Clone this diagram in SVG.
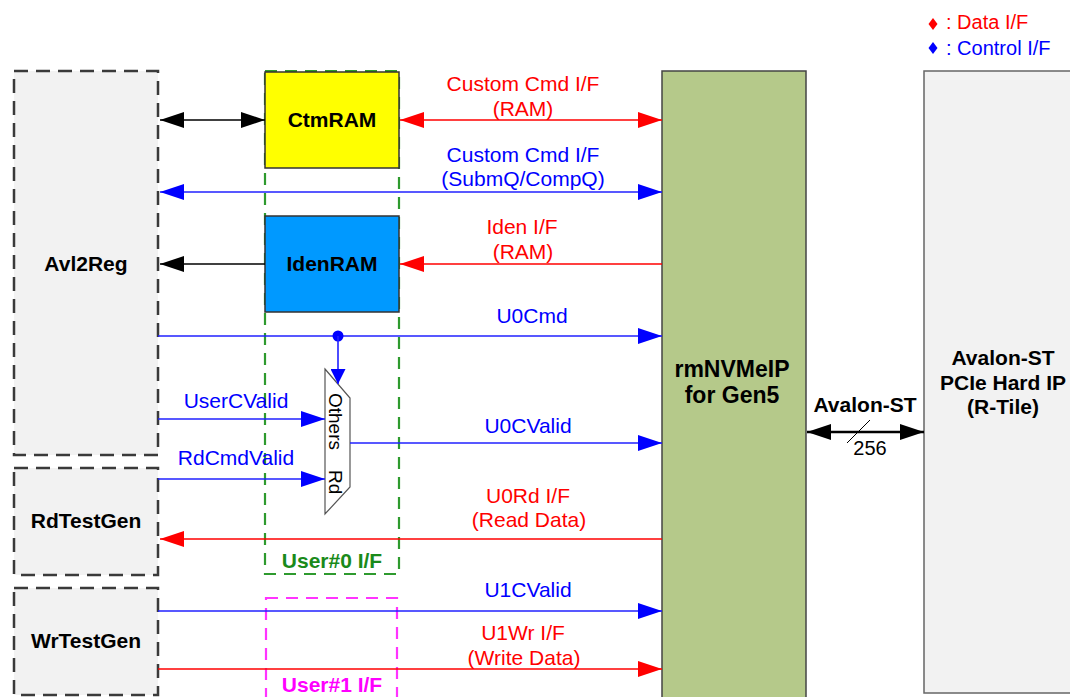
<svg xmlns="http://www.w3.org/2000/svg" width="1070" height="697" viewBox="0 0 1070 697">
<defs>
<style>
text{font-family:"Liberation Sans",Arial,sans-serif}
.lbl{font-size:21px;text-anchor:middle}
.r{fill:#ff0000}
.b{fill:#0000ff}
.bold{font-weight:bold;fill:#000;text-anchor:middle;font-size:21px}
.dash{fill:#f2f2f2;stroke:#3a3a3a;stroke-width:2.5;stroke-dasharray:14 8}
.ln-b{stroke:#2020ff;stroke-width:1.6;fill:none}
.ln-r{stroke:#ff0000;stroke-width:1.6;fill:none}
.ln-k{stroke:#000;stroke-width:1.6;fill:none}
</style>
<marker id="ab" viewBox="0 0 24 16" refX="24" refY="8" markerWidth="24" markerHeight="16" markerUnits="userSpaceOnUse" orient="auto-start-reverse"><path d="M0,0 L24,8 L0,16 z" fill="#0000ff"/></marker>
<marker id="abs" viewBox="0 0 16 16" refX="16" refY="8" markerWidth="16" markerHeight="15" markerUnits="userSpaceOnUse" orient="auto-start-reverse"><path d="M0,0 L16,8 L0,16 z" fill="#0000ff"/></marker>
<marker id="ar" viewBox="0 0 24 16" refX="24" refY="8" markerWidth="24" markerHeight="16" markerUnits="userSpaceOnUse" orient="auto-start-reverse"><path d="M0,0 L24,8 L0,16 z" fill="#ff0000"/></marker>
<marker id="ak" viewBox="0 0 24 16" refX="24" refY="8" markerWidth="24" markerHeight="16" markerUnits="userSpaceOnUse" orient="auto-start-reverse"><path d="M0,0 L24,8 L0,16 z" fill="#000"/></marker>
</defs>
<rect width="1070" height="697" fill="#fff"/>

<g id="legend">
<polygon points="933,18 937.5,24 933,30 928.5,24" fill="#ff0000"/>
<text x="946" y="29" font-size="20" class="r">: Data I/F</text>
<polygon points="933,42 937.5,48 933,54 928.5,48" fill="#0000ff"/>
<text x="946" y="55" font-size="20" class="b">: Control I/F</text>
</g>

<g id="avl2reg">
<rect class="dash" x="14" y="71" width="144" height="384"/>
<text class="bold" x="86" y="271">Avl2Reg</text>
</g>
<g id="rdtestgen">
<rect class="dash" x="14" y="468" width="144" height="107"/>
<text class="bold" x="86" y="528">RdTestGen</text>
</g>
<g id="wrtestgen">
<rect class="dash" x="14" y="588" width="144" height="107"/>
<text class="bold" x="86" y="648">WrTestGen</text>
</g>

<g id="user0">
<rect x="265" y="71" width="134" height="503" fill="none" stroke="#2e9a2e" stroke-width="2.2" stroke-dasharray="12 8"/>
<text x="332" y="568" font-size="21" font-weight="bold" fill="#1a8a1a" text-anchor="middle">User#0 I/F</text>
</g>
<g id="user1">
<rect x="266" y="598" width="131" height="110" fill="none" stroke="#ff33ff" stroke-width="2.2" stroke-dasharray="12 8"/>
<text x="332" y="692" font-size="21" font-weight="bold" fill="#ff00ff" text-anchor="middle">User#1 I/F</text>
</g>

<g id="ctmram">
<rect x="265" y="72" width="134" height="96" fill="#ffff00" stroke="#333" stroke-width="1.5"/>
<text class="bold" x="332" y="127">CtmRAM</text>
</g>
<g id="idenram">
<rect x="265" y="216" width="134" height="96" fill="#0099ff" stroke="#333" stroke-width="1.5"/>
<text class="bold" x="332" y="271">IdenRAM</text>
</g>

<g id="mux">
<polygon points="325,369 350,398 350,487 325,514" fill="#fff" stroke="#555" stroke-width="1.2"/>
<text x="0" y="0" font-size="19" fill="#000" transform="translate(329,393) rotate(90)">Others</text>
<text x="0" y="0" font-size="19" fill="#000" transform="translate(329,470) rotate(90)">Rd</text>
</g>

<g id="rmnvmeip">
<rect x="662" y="71" width="144" height="640" fill="#b5c98a" stroke="#444" stroke-width="1.5"/>
<text class="bold" x="732" y="377" style="font-size:23px">rmNVMeIP</text>
<text class="bold" x="732" y="403" style="font-size:23px">for Gen5</text>
</g>

<g id="pcie">
<rect x="924" y="71" width="160" height="622" fill="#f2f2f2" stroke="#666" stroke-width="1.5"/>
<text class="bold" x="1003" y="365">Avalon-ST</text>
<text class="bold" x="1003" y="390">PCIe Hard IP</text>
<text class="bold" x="1003" y="414">(R-Tile)</text>
</g>

<g id="connectors">
<line class="ln-k" x1="160" y1="120" x2="265" y2="120" marker-start="url(#ak)" marker-end="url(#ak)"/>
<line class="ln-r" x1="400" y1="120" x2="662" y2="120" stroke-width="2" marker-start="url(#ar)" marker-end="url(#ar)"/>
<text class="lbl r" x="523" y="91">Custom Cmd I/F</text>
<text class="lbl r" x="523" y="116">(RAM)</text>

<line class="ln-b" x1="160" y1="192" x2="662" y2="192" marker-start="url(#ab)" marker-end="url(#ab)"/>
<text class="lbl b" x="523" y="162">Custom Cmd I/F</text>
<text class="lbl b" x="523" y="186">(SubmQ/CompQ)</text>

<line class="ln-k" x1="265" y1="264" x2="160" y2="264" marker-end="url(#ak)"/>
<line class="ln-r" x1="662" y1="264" x2="400" y2="264" marker-end="url(#ar)"/>
<text class="lbl r" x="522" y="234">Iden I/F</text>
<text class="lbl r" x="523" y="259">(RAM)</text>

<line class="ln-b" x1="158" y1="336" x2="662" y2="336" marker-end="url(#ab)"/>
<text class="lbl b" x="532" y="323">U0Cmd</text>
<circle cx="338" cy="336" r="5.5" fill="#0000ff"/>
<line class="ln-b" x1="338" y1="336" x2="338" y2="384" stroke="#4444ff" marker-end="url(#abs)"/>

<line class="ln-b" x1="158" y1="419" x2="325" y2="419" stroke="#4444ff" stroke-width="2" marker-end="url(#ab)"/>
<text class="lbl b" x="236" y="408">UserCValid</text>
<line class="ln-b" x1="158" y1="479" x2="325" y2="479" stroke="#4444ff" marker-end="url(#ab)"/>
<text class="lbl b" x="236" y="465">RdCmdValid</text>

<line class="ln-b" x1="350" y1="443" x2="662" y2="443" stroke="#4444ff" marker-end="url(#ab)"/>
<text class="lbl b" x="528" y="433">U0CValid</text>

<line class="ln-r" x1="662" y1="539" x2="160" y2="539" marker-end="url(#ar)"/>
<text class="lbl r" x="528" y="503">U0Rd I/F</text>
<text class="lbl r" x="529" y="527">(Read Data)</text>

<line class="ln-b" x1="158" y1="611" x2="662" y2="611" marker-end="url(#ab)"/>
<text class="lbl b" x="528" y="597">U1CValid</text>

<line class="ln-r" x1="158" y1="669" x2="662" y2="669" stroke="#ff6666" stroke-width="2" marker-end="url(#ar)"/>
<text class="lbl r" x="523" y="640">U1Wr I/F</text>
<text class="lbl r" x="524" y="665">(Write Data)</text>

<line x1="807" y1="432" x2="924" y2="432" stroke="#000" stroke-width="2.5" marker-start="url(#ak)" marker-end="url(#ak)"/>
<line x1="870" y1="420" x2="847" y2="443" stroke="#000" stroke-width="1"/>
<text class="bold" x="865" y="412">Avalon-ST</text>
<text x="870" y="455" font-size="20" fill="#000" text-anchor="middle">256</text>
</g>
</svg>
